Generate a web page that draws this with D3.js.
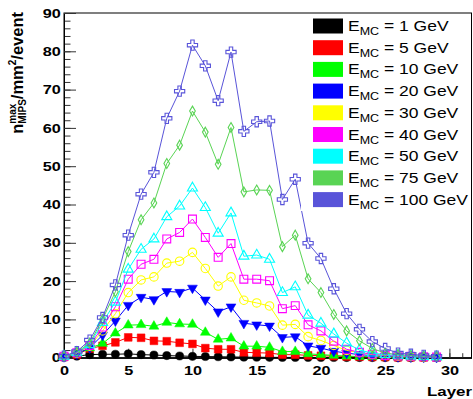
<!DOCTYPE html>
<html><head><meta charset="utf-8">
<script src="https://cdn.jsdelivr.net/npm/d3@7"></script>
<style>
body{margin:0;background:#fff}
text{font-family:"Liberation Sans",Arial,Helvetica,sans-serif}
</style>
</head><body>
<svg id="c" width="473" height="399"></svg>
<script>
const layers = [0,1,2,3,4,5,6,7,8,9,10,11,12,13,14,15,16,17,18,19,20,21,22,23,24,25,26,27,28,29];
const seriesNames = ["1 GeV","5 GeV","10 GeV","20 GeV","30 GeV","40 GeV","50 GeV","75 GeV","100 GeV"];
const e1   = [0.1,0.4,0.8,0.9,0.9,1.0,0.8,0.7,0.55,0.45,0.35,0.3,0.25,0.2,0.15,0.12,0.1,0.08,0.07,0.06,0.05,0.04,0.03,0.03,0.02,0.02,0.01,0.01,0.01,0.01];
const e5   = [0.2,0.8,2.4,3.1,4.0,5.3,5.2,4.4,4.3,3.9,3.6,2.5,2.2,2.2,1.4,1.3,1.2,0.8,0.8,0.6,0.5,0.4,0.3,0.25,0.2,0.15,0.1,0.1,0.08,0.05];
const e10  = [0.2,1.0,2.5,3.7,6.4,8.5,8.6,8.2,9.2,8.8,8.7,6.6,4.8,5.1,3.0,3.0,2.7,1.6,1.6,1.0,0.8,0.6,0.4,0.3,0.25,0.2,0.15,0.1,0.08,0.06];
const e20  = [0.3,1.0,2.6,5.9,9.6,13.7,15.8,15.2,17.3,17.1,18.2,15.1,12.0,13.3,9.0,8.6,8.3,5.3,5.5,3.1,2.5,1.7,1.2,0.8,0.55,0.4,0.3,0.2,0.15,0.1];
const e30  = [0.3,1.2,3.0,7.0,11.5,17.0,20.3,21.1,24.7,25.2,27.5,23.3,18.7,21.1,15.0,14.3,13.5,8.5,8.7,5.5,4.5,3.2,1.9,1.3,0.8,0.6,0.4,0.3,0.2,0.15];
const e40  = [0.4,1.3,3.2,8.0,13.3,20.5,24.4,25.7,31.0,32.7,36.2,31.4,26.2,29.8,20.5,20.5,20.1,12.8,13.6,8.6,7.0,4.3,2.2,1.4,0.9,0.6,0.45,0.35,0.25,0.2];
const e50  = [0.4,1.4,3.4,9.2,14.5,23.1,28.3,31.0,36.8,39.6,44.3,39.2,32.5,37.8,26.5,26.8,25.7,17.0,18.5,11.1,9.0,6.2,3.8,2.0,1.2,0.8,0.6,0.45,0.3,0.25];
const e75  = [0.4,1.5,3.8,10.0,17.2,27.7,36.0,40.4,50.7,55.5,64.4,58.9,50.5,60.1,43.3,43.8,43.7,29.0,32.0,20.6,17.0,11.3,7.0,4.4,2.4,1.2,0.8,0.6,0.4,0.3];
const e100 = [0.4,1.6,4.6,10.5,19.0,32.0,42.7,48.4,62.5,69.6,81.6,76.2,67.1,79.8,59.1,61.6,61.8,41.3,46.6,29.9,25.9,18.0,11.5,7.4,4.2,2.4,1.2,0.9,0.6,0.4];
const seriesValues = [e1,e5,e10,e20,e30,e40,e50,e75,e100];
const xTickLabels = [0,5,10,15,20,25,30];
const yTickLabels = [0,10,20,30,40,50,60,70,80,90];

const colors = ["#000000","#ff0000","#00ff00","#0000ff","#ffff00","#ff00ff","#00ffff","#59d454","#5954d9"];
// marker: [d3 symbol type, size, filled, rotate]
const markers = [
  [d3.symbolCircle, 52, true, 0],
  [d3.symbolSquare, 60, true, 0],
  [d3.symbolTriangle, 42, true, 0],
  [d3.symbolTriangle, 42, true, 180],
  [d3.symbolCircle, 56, false, 0],
  [d3.symbolSquare, 62, false, 0],
  [d3.symbolTriangle, 44, false, 0],
  [d3.symbolDiamond, 28, false, 0],
  [d3.symbolCross, 58, false, 0]
];

const svg = d3.select("#c");
const x = d3.scaleLinear().domain([0, 31.72]).range([64, 471.5]);
const y = d3.scaleLinear().domain([0, 90]).range([357.7, 13]);

// frame
svg.append("rect").attr("x",64).attr("y",13).attr("width",471.5-64).attr("height",357.7-13)
  .attr("fill","none").attr("stroke","#000").attr("stroke-width",1);

// axes
const gx = svg.append("g").attr("transform","translate(0,357.7)");
gx.call(d3.axisBottom(x).tickValues(d3.range(0,32,1)).tickSize(-4.5).tickSizeOuter(0).tickFormat(""));
const gxM = svg.append("g").attr("transform","translate(0,357.7)");
gxM.call(d3.axisBottom(x).tickValues(xTickLabels).tickSize(-9).tickSizeOuter(0).tickPadding(8));
const gy = svg.append("g").attr("transform","translate(64,0)");
gy.call(d3.axisLeft(y).tickValues(d3.range(0,91,2)).tickSize(-6.5).tickSizeOuter(0).tickFormat(""));
const gyM = svg.append("g").attr("transform","translate(64,0)");
gyM.call(d3.axisLeft(y).tickValues(yTickLabels).tickSize(-12).tickSizeOuter(0).tickPadding(2.5));
svg.selectAll(".domain").attr("stroke","#000");
svg.selectAll(".tick line").attr("stroke","#333");
svg.selectAll(".tick text").attr("font-size",13).attr("font-weight","bold")
  .attr("font-family","'Liberation Sans',Arial,sans-serif").attr("fill","#000")
  .attr("transform","scale(1.25,1)");

// series
const line = d3.line().x((d,i)=>x(layers[i])).y(d=>y(d));
seriesValues.forEach((vals, s) => {
  const g = svg.append("g");
  g.append("path").attr("d", line(vals)).attr("fill","none").attr("stroke",colors[s]).attr("stroke-width",1);
  const m = markers[s];
  const sym = d3.symbol().type(m[0]).size(m[1]);
  g.selectAll("path.mk").data(vals).enter().append("path").attr("class","mk")
    .attr("d", sym)
    .attr("transform",(d,i)=>`translate(${x(layers[i])},${y(d)})` + (m[3]?` rotate(${m[3]})`:""))
    .attr("fill", m[2] ? colors[s] : "none")
    .attr("stroke", colors[s]).attr("stroke-width", m[2] ? 0.5 : 1.1);
});

// legend
svg.append("rect").attr("x",301).attr("y",14).attr("width",170).attr("height",197).attr("fill","#fff");
seriesNames.forEach((nm, i) => {
  const cy = 26 + 21.7*i;
  svg.append("rect").attr("x",313).attr("y",cy-7.5).attr("width",30).attr("height",15).attr("fill",colors[i]);
  const t = svg.append("text").attr("transform",`translate(348,${cy+5}) scale(1.25,1)`).attr("font-size",14).attr("fill","#000");
  t.append("tspan").text("E");
  t.append("tspan").attr("font-size",10).attr("dy",4).text("MC");
  t.append("tspan").attr("dy",-4).text(" = " + nm);
});

// x title
svg.append("text").attr("transform","translate(472,395.5) scale(1.3,1)").attr("text-anchor","end")
  .attr("font-size",13).attr("font-weight","bold").text("Layer");

// y title
const yt = svg.append("g");
const pieces = [
  {t:"n", fs:16.5, v:0},
  {stack:[{t:"max", fs:10, v:-7.5},{t:"MIPS", fs:10, v:3}]},
  {t:"/mm", fs:16.5, v:0},
  {t:"2", fs:10, v:-7.5},
  {t:"/event", fs:16.5, v:0}
];
let u = 0;
function mk(p){
  return yt.append("text").attr("font-size",p.fs).attr("font-weight","bold").attr("y",p.v).text(p.t);
}
pieces.forEach(p => {
  if (p.stack) {
    let w = 0;
    p.stack.forEach(q => { const e = mk(q); e.attr("x",u); w = Math.max(w, e.node().getComputedTextLength()); });
    u += w;
  } else {
    const e = mk(p); e.attr("x",u); u += e.node().getComputedTextLength();
  }
});
yt.attr("transform",`translate(23,${12+u}) rotate(-90)`);
</script>
</body></html>
